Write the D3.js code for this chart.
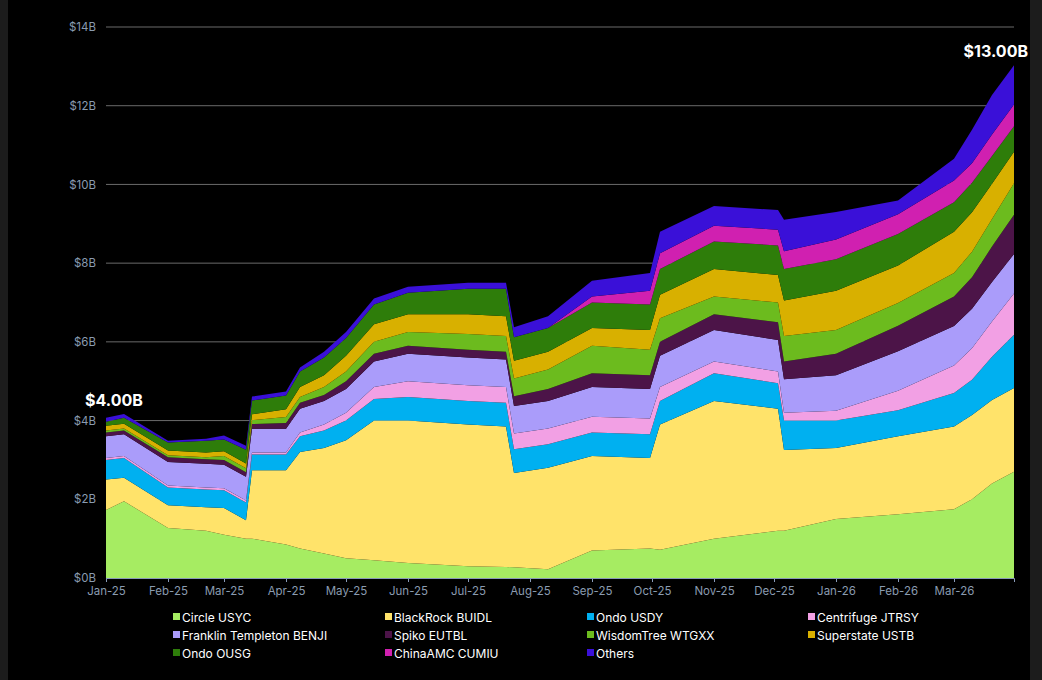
<!DOCTYPE html>
<html><head><meta charset="utf-8">
<script src="https://cdn.jsdelivr.net/npm/d3@7"></script>
<style>body{margin:0;background:#1c1c1c}svg{display:block;font-family:Inter,"Noto Sans",sans-serif}</style>
</head><body><svg width="1042" height="680"></svg>
<script>
const dates = ["2025-01-01","2025-01-10","2025-02-01","2025-02-20","2025-03-01","2025-03-12","2025-03-15","2025-04-01","2025-04-08","2025-04-20","2025-05-01","2025-05-15","2025-06-01","2025-07-01","2025-07-20","2025-07-24","2025-08-10","2025-09-01","2025-09-30","2025-10-05","2025-11-01","2025-12-03","2025-12-06","2026-01-01","2026-02-01","2026-03-01","2026-03-10","2026-03-20","2026-03-31"];
const circleUSYC = [1.73,1.95,1.27,1.2,1.1,1.0,1.0,0.85,0.75,0.62,0.5,0.45,0.38,0.3,0.28,0.27,0.22,0.7,0.75,0.72,1.0,1.2,1.2,1.5,1.62,1.75,2.0,2.4,2.7];
const blackrockBUIDL = [0.77,0.6,0.58,0.6,0.68,0.47,1.74,1.89,2.45,2.68,3.0,3.55,3.62,3.6,3.57,2.4,2.58,2.4,2.3,3.18,3.5,3.1,2.05,1.8,1.98,2.1,2.14,2.12,2.13];
const ondoUSDY = [.5,.5,.45,.45,.45,.45,.4,.4,.4,.45,.5,.55,.6,.6,.6,.6,.6,.6,.6,.6,.7,.65,.75,.7,.66,.85,.9,1.1,1.35];
const centrifugeJTRSY = [.05,.05,.05,.05,.05,.05,.05,.05,.1,.15,.2,.3,.4,.4,.4,.4,.4,.4,.4,.35,.3,.3,.2,.25,.5,.7,.8,.9,1.05];
const franklinBENJI = [.55,.55,.6,.6,.6,.6,.6,.6,.6,.6,.6,.65,.7,.7,.7,.7,.7,.75,.75,.8,.8,.8,.85,.9,1.0,1.0,1.0,1.0,1.0];
const spikoEUTBL = [.1,.1,.12,.12,.12,.12,.12,.15,.15,.15,.2,.2,.2,.2,.2,.25,.3,.35,.35,.35,.4,.45,.45,.55,.65,.75,.8,.9,1.0];
const wisdomTreeWTGXX = [.05,.05,.05,.05,.1,.1,.1,.15,.15,.2,.25,.3,.35,.4,.4,.45,.5,.7,.65,.6,.45,.5,.65,.6,.58,.6,.65,.7,.8];
const superstateUSTB = [.12,.12,.12,.12,.12,.12,.15,.2,.25,.3,.4,.45,.45,.5,.5,.45,.45,.45,.5,.6,.7,.7,.9,1.0,.95,1.05,1.0,.9,.8];
const ondoOUSG = [.1,.15,.2,.3,.3,.35,.35,.35,.4,.45,.45,.5,.55,.65,.7,.6,.6,.65,.65,.65,.7,.75,.8,.8,.8,.75,.75,.7,.65];
const chinaAmcCUMIU = [0,0,0,0,0,0,0,0,0,0,0,0,0,0,0,0,0,.15,.35,.4,.4,.4,.45,.5,.5,.55,.5,.55,.55];
const others = [.1,.1,.05,.05,.1,.1,.1,.1,.1,.15,.15,.15,.15,.15,.15,.25,.3,.4,.45,.55,.5,.5,.8,.7,.35,.55,.85,1.0,1.0];
const seriesNames = ["Circle USYC","BlackRock BUIDL","Ondo USDY","Centrifuge JTRSY","Franklin Templeton BENJI","Spiko EUTBL","WisdomTree WTGXX","Superstate USTB","Ondo OUSG","ChinaAMC CUMIU","Others"];
const seriesValues = [circleUSYC,blackrockBUIDL,ondoUSDY,centrifugeJTRSY,franklinBENJI,spikoEUTBL,wisdomTreeWTGXX,superstateUSTB,ondoOUSG,chinaAmcCUMIU,others];
const colors = ["#a6ec62","#ffe36a","#00b0f0","#f2a0e4","#aa9cfa","#4c1448","#6cbb1e","#d8b000","#2e7d0a","#d020b0","#3a10d8"];
const yTicks = [0,2,4,6,8,10,12,14];

const svg = d3.select("svg");
svg.append("rect").attr("x",8).attr("y",0).attr("width",1022).attr("height",680).attr("fill","#000");

const x = d3.scaleTime().domain([new Date("2025-01-01"), new Date("2026-03-31")]).range([106,1014]);
const y = d3.scaleLinear().domain([0,14]).range([578,27]);

// grid
svg.append("g").selectAll("line").data(yTicks.filter(d=>d>0)).join("line")
  .attr("x1",106).attr("x2",1014).attr("y1",d=>y(d)).attr("y2",d=>y(d))
  .attr("stroke","#6a6a6a").attr("stroke-width",1);

const rows = dates.map((d,i)=>{ const o={date:new Date(d)}; seriesNames.forEach((n,k)=>o[n]=seriesValues[k][i]); return o; });
const stack = d3.stack().keys(seriesNames)(rows);
const area = d3.area().x(d=>x(d.data.date)).y0(d=>y(d[0])).y1(d=>y(d[1]));
svg.append("g").selectAll("path").data(stack).join("path")
  .attr("d",area).attr("fill",(d,i)=>colors[i]);

// axes
const yAxis = svg.append("g").attr("transform","translate(106,0)")
  .call(d3.axisLeft(y).tickValues(yTicks).tickSize(0).tickPadding(10).tickFormat(d=>"$"+d+"B"));
yAxis.select(".domain").remove();
const xAxis = svg.append("g").attr("transform","translate(0,578)")
  .call(d3.axisBottom(x).ticks(d3.timeMonth.every(1)).tickSize(4).tickPadding(5).tickFormat(d3.timeFormat("%b-%y")));
xAxis.select(".domain").attr("stroke","#8a9bb8");
xAxis.selectAll(".tick line").attr("stroke","#8a9bb8");
svg.selectAll(".tick text").attr("fill","#8a9bb0").attr("font-size",11.5).attr("font-family","Inter, sans-serif");

// annotations
svg.append("text").attr("x",85).attr("y",406).attr("fill","#fff").attr("font-size",16).attr("font-weight","bold").text("$4.00B");
svg.append("text").attr("x",1028).attr("y",57).attr("text-anchor","end").attr("fill","#fff").attr("font-size",16).attr("font-weight","bold").text("$13.00B");

// legend
const colX = [173,385,587,808];
const leg = svg.append("g").selectAll("g").data(seriesNames).join("g")
  .attr("transform",(d,i)=>`translate(${colX[i%4]},${618+Math.floor(i/4)*18})`);
leg.append("rect").attr("x",0).attr("y",-5).attr("width",7).attr("height",7).attr("fill",(d,i)=>colors[i]);
leg.append("text").attr("x",9).attr("y",0).attr("dy","0.35em").attr("fill","#fff").attr("font-size",12).text(d=>d);
</script></body></html>
